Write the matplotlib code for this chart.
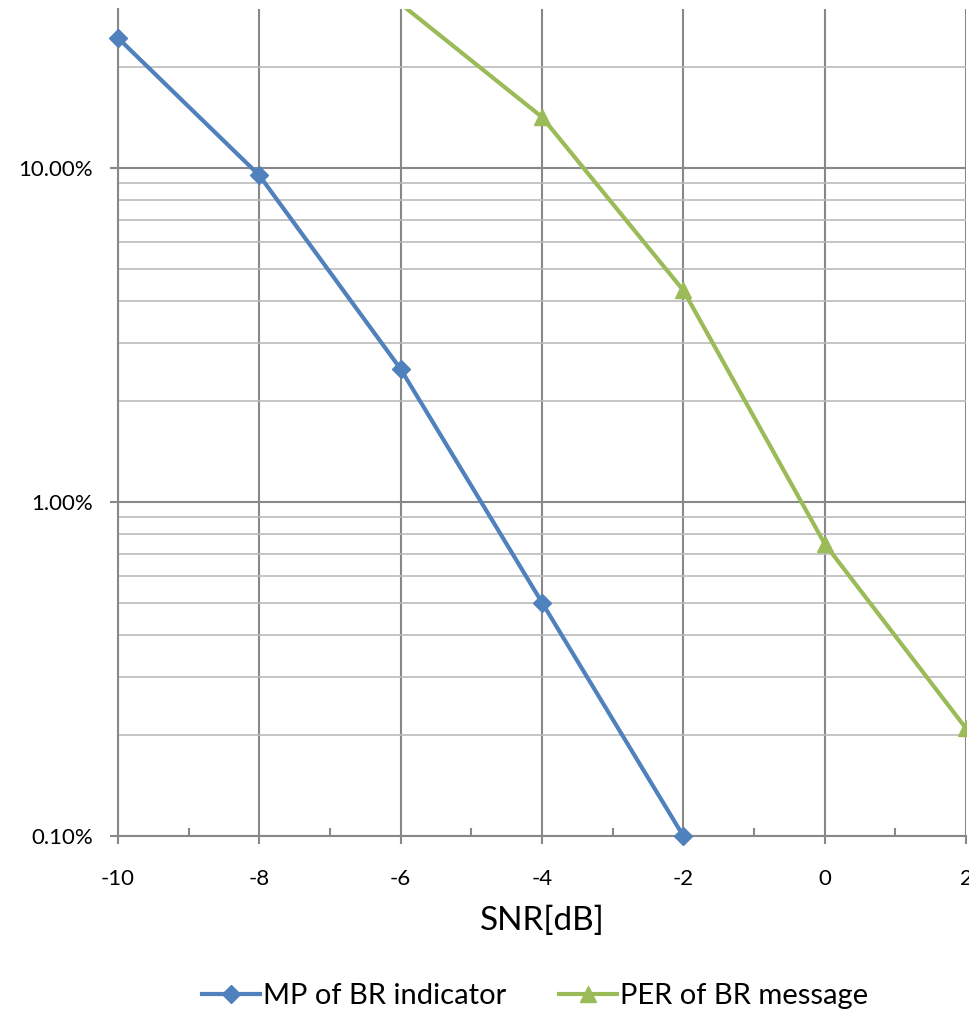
import matplotlib
matplotlib.use("Agg")
import matplotlib.pyplot as plt
from matplotlib.ticker import FixedLocator, NullFormatter

snr = [-10, -8, -6, -4, -2, 0, 2]
mp_snr = [-10, -8, -6, -4, -2]
mp_values = [0.245, 0.095, 0.025, 0.005, 0.001]
per_snr = [-6, -4, -2, 0, 2]
per_values = [0.31, 0.142, 0.043, 0.0075, 0.0021]
y_ticks = [0.001, 0.01, 0.1]
y_tick_labels = ["0.10%", "1.00%", "10.00%"]
x_label = "SNR[dB]"
mp_label = "MP of BR indicator"
per_label = "PER of BR message"

plt.rcParams['font.family'] = ['Lato', 'DejaVu Sans']

fig = plt.figure(figsize=(9.7, 10.13), dpi=100)
ax = fig.add_axes([118/970, 1-836/1013, (966-118)/970, (836-8.6)/1013])

blue = '#4F81BD'
green = '#9BBB59'
ax.plot(mp_snr, mp_values, color=blue, lw=3, marker='D', ms=9, label=mp_label, clip_on=False, zorder=5)
ax.plot(per_snr, per_values, color=green, lw=3, marker='^', ms=12, label=per_label, zorder=5,
        markevery=[1, 2, 3, 4])

ax.set_yscale('log')
ax.set_ylim(0.001, 0.30)
ax.set_xlim(-10, 2)

ax.set_xticks(snr)
ax.set_xticklabels([str(v) for v in snr])
ax.xaxis.set_minor_locator(FixedLocator([-9, -7, -5, -3, -1, 1]))
ax.set_yticks(y_ticks)
ax.set_yticklabels(y_tick_labels)
minor = [m * 10.0**e for e in (-3, -2, -1) for m in range(2, 10) if m * 10.0**e <= 0.3]
ax.yaxis.set_minor_locator(FixedLocator(minor))
ax.yaxis.set_minor_formatter(NullFormatter())

ax.grid(which='major', axis='both', color='#888888', lw=1.5)
ax.grid(which='minor', axis='y', color='#bbbbbb', lw=1.2)
ax.set_axisbelow(True)

for s in ('left', 'bottom'):
    ax.spines[s].set_color('#888888')
    ax.spines[s].set_linewidth(1.5)
for s in ('top', 'right'):
    ax.spines[s].set_visible(False)

ax.tick_params(axis='both', which='major', colors='#888888', labelcolor='black', labelsize=16, length=6, width=1.5)
ax.tick_params(axis='x', which='major', pad=18)
ax.tick_params(axis='y', which='major', pad=12)
ax.tick_params(axis='x', which='minor', direction='in', length=6, width=1.5, colors='#888888')
ax.tick_params(axis='y', which='minor', length=0)

ax.set_xlabel(x_label, fontsize=24, labelpad=12)

fig.legend(loc='center', bbox_to_anchor=(535/970, 1-996/1013), ncol=2, frameon=False,
           fontsize=21, handlelength=2.0, columnspacing=1.8, handletextpad=0.1)

fig.savefig('out.png', dpi=100)
